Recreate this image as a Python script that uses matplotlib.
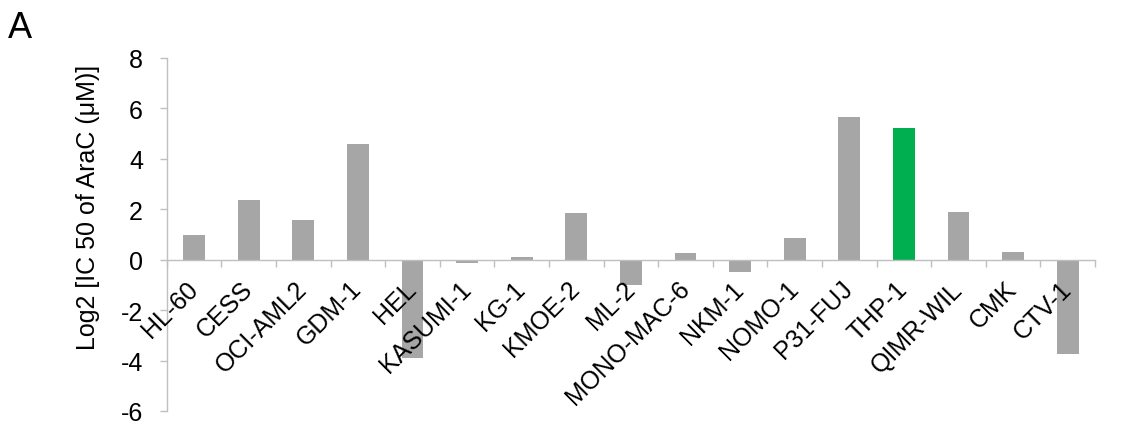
import matplotlib
matplotlib.use("Agg")
import matplotlib.pyplot as plt
import numpy as np

# Datos
lineas_celulares = ['HL-60', 'CESS', 'OCI-AML2', 'GDM-1', 'HEL', 'KASUMI-1', 'KG-1',
                    'KMOE-2', 'ML-2', 'MONO-MAC-6', 'NKM-1', 'NOMO-1', 'P31-FUJ',
                    'THP-1', 'QIMR-WIL', 'CMK', 'CTV-1']
log2_ic50 = [1.0, 2.37, 1.58, 4.58, -3.88, -0.13, 0.12, 1.84, -1.0, 0.25, -0.5,
             0.86, 5.66, 5.24, 1.88, 0.3, -3.75]
destacada = 'THP-1'
y_ticks = [-6, -4, -2, 0, 2, 4, 6, 8]

gris = '#A6A6A6'
verde = '#00B050'
color_eje = '#BFBFBF'
tam = 18

plt.rcParams['font.family'] = ['Liberation Sans', 'DejaVu Sans']

fig = plt.figure(figsize=(11.46, 4.27), dpi=100)
ax = fig.add_axes([166.7 / 1146, 1 - 412 / 427, (1095 - 166.7) / 1146, (412 - 59) / 427])

x = np.arange(len(lineas_celulares))
colores = [verde if c == destacada else gris for c in lineas_celulares]
ax.bar(x, log2_ic50, width=0.4, color=colores, zorder=2)
ax.set_axisbelow(False)  # etiquetas y ejes por encima de las barras

ax.set_xlim(-0.5, len(lineas_celulares) - 0.5)
ax.set_ylim(-6, 8)
ax.set_yticks(y_ticks)
ax.set_yticklabels([str(v) for v in y_ticks])

# ejes estilo Excel
for s in ['top', 'right']:
    ax.spines[s].set_visible(False)
ax.spines['left'].set_color(color_eje)
ax.spines['left'].set_linewidth(1.0)
ax.spines['bottom'].set_position(('data', 0))
ax.spines['bottom'].set_color(color_eje)
ax.spines['bottom'].set_linewidth(1.0)

ax.tick_params(axis='y', length=5, width=1.0, color=color_eje, pad=12, labelsize=tam)
ax.set_xticks(x)
ax.set_xticks(np.arange(len(lineas_celulares) + 1) - 0.5, minor=True)
ax.tick_params(axis='x', which='major', length=0, pad=18, labelsize=tam)
ax.tick_params(axis='x', which='minor', length=5, width=1.0, color=color_eje, direction='out')
ax.set_xticklabels(lineas_celulares, rotation=45, ha='right', va='center',
                   rotation_mode='anchor')

ax.set_ylabel('Log2 [IC 50 of AraC (\u03bcM)]', fontsize=tam)
ax.yaxis.set_label_coords(-0.0718, 0.579)

fig.text(8 / 1146, 1 - 38 / 427, 'A', fontsize=26, ha='left', va='baseline')

fig.savefig('out.png', dpi=100)
plt.close(fig)
